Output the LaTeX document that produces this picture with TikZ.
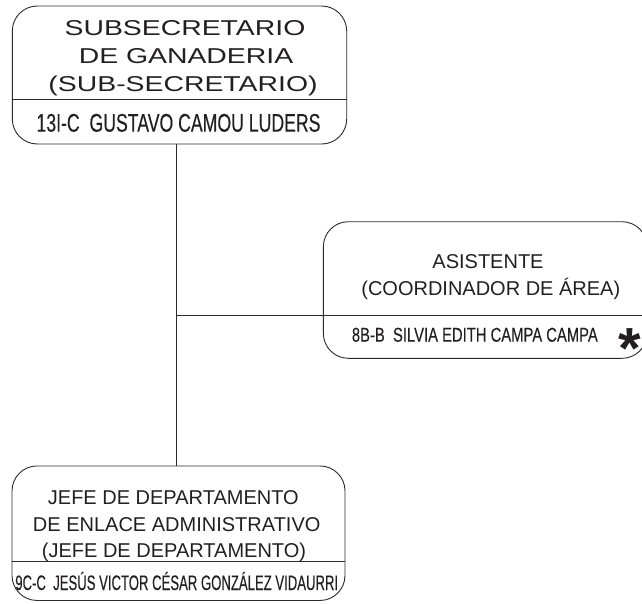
\documentclass[tikz,border=0pt]{standalone}
\usepackage{fontspec}
\setmainfont{Liberation Sans}
\newfontfamily\widefont[FakeStretch=1.32]{Liberation Sans}
\newfontfamily\narrowA[FakeStretch=0.69,FakeBold=0.25]{Liberation Sans}
\newfontfamily\narrowB[FakeStretch=0.74,FakeBold=0.25]{Liberation Sans}
\newfontfamily\narrowC[FakeStretch=0.625,FakeBold=0.25]{Liberation Sans}
\newfontfamily\starfont{Liberation Sans Bold}
\definecolor{ink}{HTML}{231F20}
\definecolor{rule}{HTML}{2A2A2A}
\begin{document}
\begin{tikzpicture}[x=1pt,y=-1pt,
  box/.style={draw=rule, line width=0.9pt, rounded corners=25pt, inner sep=0pt, shape=rectangle},
  link/.style={draw=rule, line width=0.9pt},
  txt/.style={inner sep=0pt, anchor=base, text=ink},
  titleA/.style={txt, font=\widefont\fontsize{21.5pt}{26pt}\selectfont},
  titleB/.style={txt, font=\fontsize{20pt}{24pt}\selectfont},
  nameA/.style={txt, font=\narrowA\fontsize{25.6pt}{30pt}\selectfont},
  nameB/.style={txt, font=\narrowB\fontsize{20pt}{24pt}\selectfont},
  nameC/.style={txt, font=\narrowC\fontsize{21pt}{25pt}\selectfont}]
\useasboundingbox (0,0) rectangle (642,603);

% boxes
\node[box, minimum width=334.4pt, minimum height=138pt] (top) at (179.5,75) {};
\node[box, minimum width=323.7pt, minimum height=136.6pt] (asis) at (485.2,290) {};
\node[box, minimum width=333pt, minimum height=134.5pt] (jefe) at (178.5,533.2) {};

% dividers
\draw[link] (top.west |- 0,99.4) -- (top.east |- 0,99.4);
\coordinate (asisdiv) at (asis.west |- 0,315.8);
\draw[link] (asisdiv) -- (asis.east |- 0,315.8);
\draw[link] (jefe.west |- 0,561.6) -- (jefe.east |- 0,561.6);

% connectors
\coordinate (trunk) at (176.7,0);
\draw[link] (trunk |- top.south) -- (trunk |- jefe.north);
\draw[link] (trunk |- asisdiv) -- (asisdiv);

% top box texts
\node[titleA] (t1) at (185,35.5) {SUBSECRETARIO};
\node[titleA] (t2) at (186,63.5) {DE GANADERIA};
\node[titleA] (t3) at (183,91.5) {(SUB-SECRETARIO)};
\node[nameA] (tn) at (178.5,131.7) {13I-C~~GUSTAVO CAMOU LUDERS};

% right box texts
\node[titleB] (a1) at (488,268.3) {ASISTENTE};
\node[titleB] (a2) at (490.8,295) {(COORDINADOR DE ÁREA)};
\node[nameB, anchor=base west] (an) at (351.7,341.7) {8B-B~~SILVIA EDITH CAMPA CAMPA};
\node[inner sep=0pt, anchor=base, text=ink, font=\starfont\fontsize{58pt}{58pt}\selectfont] (star) at (630,368) {*};

% bottom box texts
\node[titleB] (j1) at (173.3,504) {JEFE DE DEPARTAMENTO};
\node[titleB] (j2) at (176.7,531) {DE ENLACE ADMINISTRATIVO};
\node[titleB] (j3) at (174,557.7) {(JEFE DE DEPARTAMENTO)};
\node[nameC] (jn) at (176.7,590) {9C-C~~JESÚS VICTOR CÉSAR GONZÁLEZ VIDAURRI};
\end{tikzpicture}
\end{document}
